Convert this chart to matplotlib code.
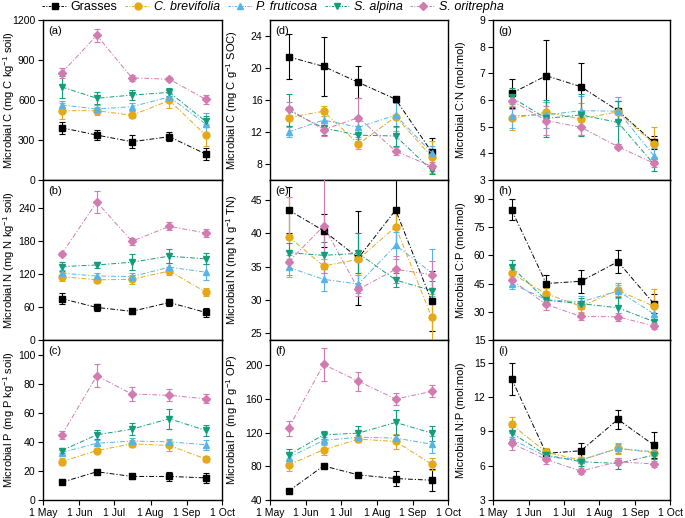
import datetime as dt
import matplotlib
matplotlib.use("Agg")
import matplotlib.pyplot as plt
from matplotlib.lines import Line2D

plt.rcParams['font.family'] = ['Liberation Sans', 'DejaVu Sans']
plt.rcParams['mathtext.fontset'] = 'custom'
plt.rcParams['mathtext.rm'] = 'Liberation Sans'

# ---------------- data ----------------
dates = [dt.date(2019, 5, 17), dt.date(2019, 6, 16), dt.date(2019, 7, 16),
         dt.date(2019, 8, 17), dt.date(2019, 9, 17)]
tick_dates = [dt.date(2019, m, 1) for m in range(5, 11)]
tick_labels = ['1 May', '1 Jun', '1 Jul', '1 Aug', '1 Sep', '1 Oct']

series = ['Grasses', 'C. brevifolia', 'P. fruticosa', 'S. alpina', 'S. oritrepha']
italic = [False, True, True, True, True]
colors = ['#000000', '#E6A817', '#56B4E9', '#129E7A', '#D17BB0']
markers = ['s', 'o', '^', 'v', 'D']

# panel (a) Microbial C (mg C kg-1 soil)
a_mean = [[392, 337, 287, 325, 195],
          [520, 520, 485, 597, 337],
          [563, 532, 550, 623, 420],
          [698, 613, 637, 657, 440],
          [803, 1085, 766, 756, 605]]
a_err = [[45, 35, 50, 35, 45],
         [60, 30, 20, 60, 80],
         [30, 30, 30, 30, 80],
         [80, 45, 40, 30, 40],
         [35, 50, 20, 15, 35]]
# panel (b) Microbial N (mg N kg-1 soil)
b_mean = [[75, 59, 52, 68, 50],
          [115, 109, 110, 125, 87],
          [121, 116, 115, 132, 123],
          [133, 136, 141, 152, 147],
          [156, 250, 179, 206, 194]]
b_err = [[10, 7, 5, 6, 8],
         [8, 5, 8, 8, 8],
         [6, 6, 6, 7, 15],
         [8, 5, 14, 13, 10],
         [4, 20, 6, 7, 7]]
# panel (c) Microbial P (mg P kg-1 soil)
c_mean = [[12.2, 19.4, 16.2, 16.2, 15.2],
          [26.4, 34.0, 38.6, 37.5, 28.2],
          [32.6, 39.0, 40.5, 40.0, 38.0],
          [34.0, 44.8, 48.7, 55.9, 47.8],
          [44.6, 85.4, 72.8, 72.0, 69.6]]
c_err = [[1.2, 1.2, 1.5, 3.0, 3.2],
         [2.2, 2.0, 2.5, 4.0, 2.0],
         [2.0, 2.0, 2.0, 2.0, 3.5],
         [2.0, 3.0, 4.0, 7.0, 4.0],
         [3.0, 8.0, 5.0, 4.0, 3.0]]
# panel (d) Microbial C (mg C g-1 SOC)
d_mean = [[21.4, 20.2, 18.2, 16.1, 9.5],
          [13.8, 14.6, 10.5, 13.9, 8.9],
          [12.0, 13.5, 12.6, 14.1, 9.4],
          [14.7, 12.5, 11.6, 11.5, 7.2],
          [14.9, 12.3, 13.8, 9.6, 7.7]]
d_err = [[2.8, 3.7, 2.0, 0.3, 1.8],
         [1.0, 0.6, 0.6, 1.8, 2.0],
         [0.6, 0.8, 0.8, 1.5, 0.8],
         [2.0, 0.9, 1.2, 1.2, 0.5],
         [0.8, 0.8, 2.4, 0.5, 0.6]]
# panel (e) Microbial N (mg N g-1 TN)
e_mean = [[43.5, 40.4, 36.3, 43.5, 29.8],
          [39.5, 35.1, 36.1, 41.0, 27.4],
          [34.9, 33.1, 32.4, 38.2, 34.1],
          [37.1, 36.7, 37.0, 33.0, 31.4],
          [35.7, 41.1, 31.6, 34.6, 33.8]]
e_err = [[3.5, 2.5, 7.0, 5.5, 4.5],
         [6.0, 1.0, 4.0, 3.0, 3.5],
         [1.2, 1.7, 1.3, 2.0, 3.5],
         [1.5, 2.0, 3.0, 1.0, 1.5],
         [1.0, 7.0, 1.0, 2.0, 2.0]]
# panel (f) Microbial P (mg P g-1 OP)
f_mean = [[50.5, 80.5, 69.8, 65.5, 63.5],
          [81.7, 99.6, 112.3, 109.5, 82.5],
          [90.4, 110.7, 114.6, 113.5, 106.3],
          [93.6, 117.4, 119.4, 132.1, 119.4],
          [125.4, 201.0, 181.0, 159.9, 169.0]]
f_err = [[2, 2, 2, 9, 13],
         [7, 6, 3, 9, 7],
         [4, 4, 3, 4, 10],
         [7, 5, 9, 15, 9],
         [9, 20, 11, 7, 7]]
# panel (g) Microbial C:N (mol:mol)
g_mean = [[6.25, 6.91, 6.50, 5.60, 4.41],
          [5.31, 5.54, 5.29, 5.56, 4.35],
          [5.41, 5.44, 5.60, 5.58, 3.91],
          [6.10, 5.31, 5.44, 5.16, 3.60],
          [5.98, 5.23, 4.98, 4.25, 3.63]]
g_err = [[0.55, 1.35, 0.90, 0.35, 0.25],
         [0.45, 0.40, 0.60, 0.40, 0.65],
         [0.45, 0.50, 0.55, 0.55, 0.30],
         [0.35, 0.70, 0.80, 0.80, 0.25],
         [0.30, 0.55, 0.30, 0.10, 0.15]]
# panel (h) Microbial C:P (mol:mol)
h_mean = [[84.3, 45.0, 46.2, 56.6, 34.3],
          [50.4, 39.6, 32.9, 41.4, 32.9],
          [45.0, 36.4, 35.2, 41.1, 28.9],
          [53.9, 36.1, 34.3, 32.1, 24.8],
          [46.8, 33.9, 27.5, 27.3, 22.5]]
h_err = [[5.5, 4.5, 6.0, 6.0, 5.0],
         [3.0, 3.0, 3.0, 3.0, 9.0],
         [3.0, 3.0, 3.0, 4.0, 3.0],
         [3.5, 3.0, 3.0, 6.0, 2.5],
         [3.0, 3.0, 2.0, 2.0, 1.5]]
# panel (i) Microbial N:P (mol:mol)
i_mean = [[13.63, 7.08, 7.31, 10.05, 7.81],
          [9.61, 7.17, 6.50, 7.51, 7.14],
          [8.33, 6.79, 6.50, 7.51, 7.22],
          [8.88, 6.93, 6.35, 6.20, 6.93],
          [7.95, 6.55, 5.53, 6.35, 6.15]]
i_err = [[1.40, 0.40, 0.70, 0.85, 1.10],
         [0.65, 0.35, 0.30, 0.50, 0.30],
         [0.50, 0.35, 0.30, 0.40, 0.30],
         [0.50, 0.40, 0.35, 0.45, 0.35],
         [0.60, 0.40, 0.25, 0.30, 0.25]]

panels = [
    ('(a)', 'Microbial C (mg C kg$^{-1}$ soil)', a_mean, a_err, (0, 1200), [0, 300, 600, 900, 1200]),
    ('(b)', 'Microbial N (mg N kg$^{-1}$ soil)', b_mean, b_err, (0, 290), [0, 60, 120, 180, 240]),
    ('(c)', 'Microbial P (mg P kg$^{-1}$ soil)', c_mean, c_err, (0, 110), [0, 20, 40, 60, 80, 100]),
    ('(d)', 'Microbial C (mg C g$^{-1}$ SOC)', d_mean, d_err, (6, 26), [8, 12, 16, 20, 24]),
    ('(e)', 'Microbial N (mg N g$^{-1}$ TN)', e_mean, e_err, (24, 48), [25, 30, 35, 40, 45]),
    ('(f)', 'Microbial P (mg P g$^{-1}$ OP)', f_mean, f_err, (40, 230), [40, 80, 120, 160, 200]),
    ('(g)', 'Microbial C:N (mol:mol)', g_mean, g_err, (3, 9), [3, 4, 5, 6, 7, 8, 9]),
    ('(h)', 'Microbial C:P (mol:mol)', h_mean, h_err, (15, 100), [15, 30, 45, 60, 75, 90]),
    ('(i)', 'Microbial N:P (mol:mol)', i_mean, i_err, (3, 17), [3, 6, 9, 12, 15]),
]

# ---------------- layout ----------------
W, H = 685, 518
fig = plt.figure(figsize=(W / 100, H / 100), dpi=100)
col_left = [43, 270, 493]
col_width = [179, 178, 177]
label_x = [-0.145, -0.17, -0.153]
row_top = [20, 180, 340]
row_h = 160

TICK_FS = 7.5
LAB_FS = 8
DASH = (0, (5, 2, 1.2, 2))
for idx, (lab, ylab, means, errs, ylim, yticks) in enumerate(panels):
    col, row = idx // 3, idx % 3
    l = col_left[col] / W
    b = 1 - (row_top[row] + row_h) / H
    ax = fig.add_axes([l, b, col_width[col] / W, row_h / H])
    for s in range(len(series)):
        ax.errorbar(dates, means[s], yerr=errs[s], color=colors[s], marker=markers[s],
                    ms=5 if markers[s] != 'D' else 4.5, ls=DASH, lw=0.7,
                    elinewidth=0.8, capsize=2.2, capthick=0.8, zorder=3)
    ax.set_xlim(dt.date(2019, 5, 1), dt.date(2019, 10, 1))
    ax.set_xticks(tick_dates)
    if row == 2:
        ax.set_xticklabels(tick_labels, fontsize=TICK_FS)
    else:
        ax.set_xticklabels([])
    ax.set_ylim(*ylim)
    ax.set_yticks(yticks)
    ax.tick_params(labelsize=TICK_FS, direction='out', length=3.5, width=0.8, pad=2)
    for sp in ax.spines.values():
        sp.set_linewidth(1.0)
    ax.set_ylabel(ylab, fontsize=LAB_FS)
    ax.yaxis.set_label_coords(label_x[col], 0.5)
    ax.text(0.03, 0.96, lab, transform=ax.transAxes, fontsize=LAB_FS, va='top', ha='left')

handles = [Line2D([], [], color=colors[s], marker=markers[s], ms=5 if markers[s] != 'D' else 4.5,
                  ls=(0, (2.5, 1.5, 1, 1.5)), lw=0.7) for s in range(len(series))]
leg = fig.legend(handles, series, loc='center left', bbox_to_anchor=(42 / W, 1 - 7 / H), ncol=5,
                 frameon=False, fontsize=9, handlelength=2.0, handletextpad=0.3,
                 columnspacing=0.6, borderaxespad=0, borderpad=0)
for t, it in zip(leg.get_texts(), italic):
    if it:
        t.set_style('italic')

fig.savefig('out.png', dpi=100)
